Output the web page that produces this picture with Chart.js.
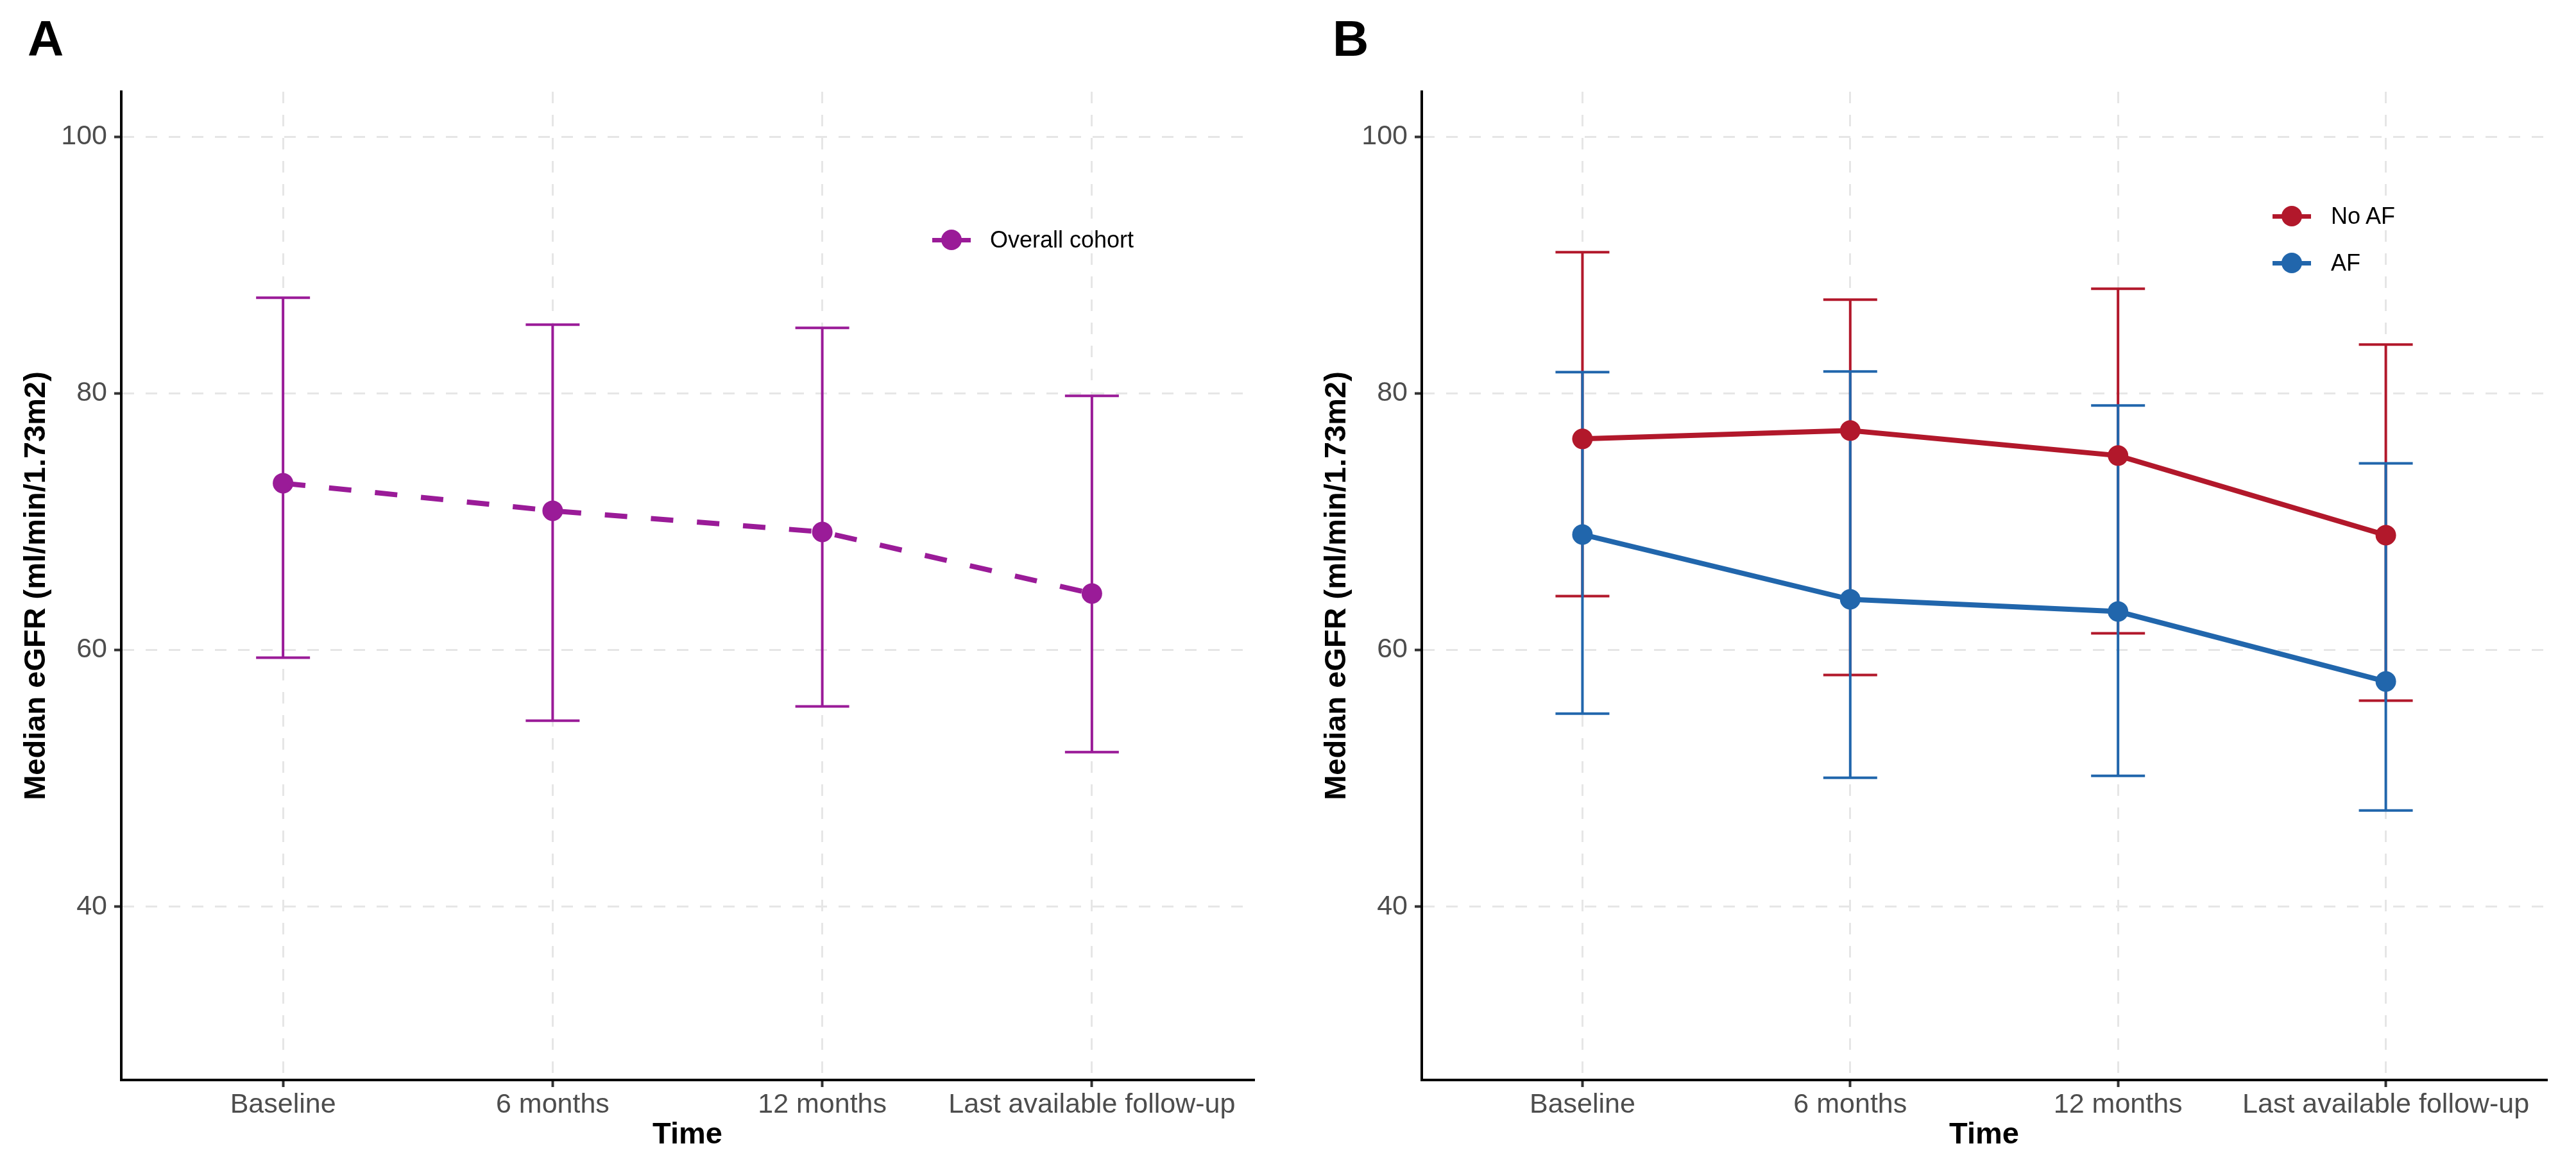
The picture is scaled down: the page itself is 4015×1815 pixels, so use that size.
<!DOCTYPE html>
<html>
<head>
<meta charset="utf-8">
<script src="https://cdn.jsdelivr.net/npm/chart.js@4.4.1/dist/chart.umd.min.js"></script>
<style>
  body { margin: 0; background: #fff; width: 4015px; height: 1815px; overflow: hidden; position: relative; font-family: 'Liberation Sans', Arial, sans-serif; }
  canvas { position: absolute; top: 0; }
  .panel { position: absolute; top: 21px; font-size: 78px; line-height: 78px; font-weight: bold; color: #000; }
  .key { position: absolute; width: 60px; height: 36px; }
  .key .ln { position: absolute; left: 0; top: 15px; width: 60px; height: 7px; }
  .key .dot { position: absolute; left: 14px; top: 2px; width: 32px; height: 32px; border-radius: 50%; }
  .lab { position: absolute; font-size: 36px; line-height: 36px; color: #000; white-space: nowrap; }
</style>
</head>
<body>
<canvas id="chartA" width="2000" height="1815" style="left:0px"></canvas>
<canvas id="chartB" width="1988" height="1815" style="left:2027px"></canvas>

<div class="panel" style="left:43px">A</div>
<div class="panel" style="left:2077px">B</div>

<div class="key" style="left:1453px; top:356px"><div class="ln" style="background:#9A1B98"></div><div class="dot" style="background:#9A1B98"></div></div>
<div class="lab" style="left:1543px; top:356px">Overall cohort</div>

<div class="key" style="left:3542px; top:319px"><div class="ln" style="background:#B2182B"></div><div class="dot" style="background:#B2182B"></div></div>
<div class="lab" style="left:3633px; top:319px">No AF</div>
<div class="key" style="left:3542px; top:392px"><div class="ln" style="background:#2166AC"></div><div class="dot" style="background:#2166AC"></div></div>
<div class="lab" style="left:3633px; top:392px">AF</div>

<script>
// time points
var categories = ['Baseline', '6 months', '12 months', 'Last available follow-up'];
var yTicks = [40, 60, 80, 100];

// panel A - overall cohort (median, IQR)
var overallMedian = [73.0, 70.85, 69.2, 64.4];
var overallLower = [59.4, 54.5, 55.6, 52.05];
var overallUpper = [87.45, 85.35, 85.1, 79.8];

// panel B - No AF / AF
var noAfMedian = [76.45, 77.1, 75.15, 68.95];
var noAfLower = [64.2, 58.05, 61.3, 56.05];
var noAfUpper = [91.0, 87.3, 88.15, 83.8];

var afMedian = [69.0, 63.95, 63.0, 57.55];
var afLower = [55.05, 50.05, 50.2, 47.5];
var afUpper = [81.65, 81.7, 79.05, 74.55];

var colors = {
	purple: '#9A1B98',
	red: '#B2182B',
	blue: '#2166AC'
};

Chart.defaults.font.family = "'Liberation Sans', Arial, sans-serif";
Chart.defaults.devicePixelRatio = 1;

function points(values) {
	return values.map(function(v, i) { return {x: i + 1, y: v}; });
}

// vertical part of the error bars, broken by null points
function stems(lower, upper) {
	var pts = [];
	for (var i = 0; i < lower.length; i++) {
		pts.push({x: i + 1, y: lower[i]}, {x: i + 1, y: upper[i]}, {x: i + 1, y: null});
	}
	return pts;
}

function caps(lower, upper) {
	return points(lower).concat(points(upper));
}

function errorSets(lower, upper, color, order) {
	return [{
		data: stems(lower, upper),
		borderColor: color,
		borderWidth: 4,
		pointRadius: 0,
		spanGaps: false,
		order: order
	}, {
		data: caps(lower, upper),
		showLine: false,
		pointStyle: 'line',
		pointRadius: 42,
		pointBorderWidth: 4,
		pointBorderColor: color,
		order: order
	}];
}

function medianSet(values, color, dash, order) {
	return {
		data: points(values),
		borderColor: color,
		borderWidth: 8,
		borderDash: dash,
		tension: 0,
		pointRadius: 16,
		pointBorderWidth: 0,
		pointBackgroundColor: color,
		order: order
	};
}

function options(padRight) {
	return {
		responsive: false,
		animation: false,
		events: [],
		layout: { padding: { left: 0, top: 143, right: padRight, bottom: 0 } },
		plugins: { legend: { display: false }, tooltip: { enabled: false } },
		scales: {
			x: {
				type: 'linear',
				min: 0.4,
				max: 4.6,
				afterBuildTicks: function(s) { s.ticks = categories.map(function(c, i) { return {value: i + 1}; }); },
				afterFit: function(s) { s.height = 131; },
				grid: { color: '#E6E6E6', lineWidth: 3, tickLength: 11, tickColor: '#333333', tickWidth: 4, tickBorderDash: [] },
				border: { color: '#000', width: 4, dash: [18, 18] },
				ticks: {
					autoSkip: false,
					maxRotation: 0,
					padding: 2,
					color: '#4D4D4D',
					font: { size: 43 },
					callback: function(v) { return categories[Math.round(v) - 1]; }
				},
				title: { display: true, text: 'Time', color: '#000', font: { size: 47, weight: 'bold' }, padding: { top: 0, bottom: 17 } }
			},
			y: {
				min: 26.5,
				max: 103.5,
				afterBuildTicks: function(s) { s.ticks = yTicks.map(function(v) { return {value: v}; }); },
				afterFit: function(s) { s.width = 189; },
				grid: { color: '#E6E6E6', lineWidth: 3, tickLength: 11, tickColor: '#333333', tickWidth: 4, tickBorderDash: [] },
				border: { color: '#000', width: 4, dash: [18, 18] },
				ticks: { padding: 11, color: '#4D4D4D', font: { size: 43 } },
				title: { display: true, text: 'Median eGFR (ml/min/1.73m2)', color: '#000', font: { size: 47, weight: 'bold' }, padding: { top: 29, bottom: 0 } }
			}
		}
	};
}

new Chart(document.getElementById('chartA').getContext('2d'), {
	type: 'line',
	data: {
		datasets: errorSets(overallLower, overallUpper, colors.purple, 3)
			.concat([medianSet(overallMedian, colors.purple, [35, 37], 1)])
	},
	options: options(34)
});

new Chart(document.getElementById('chartB').getContext('2d'), {
	type: 'line',
	data: {
		datasets: errorSets(noAfLower, noAfUpper, colors.red, 6)
			.concat(errorSets(afLower, afUpper, colors.blue, 5))
			.concat([medianSet(afMedian, colors.blue, [], 2), medianSet(noAfMedian, colors.red, [], 1)])
	},
	options: options(22)
});
</script>
</body>
</html>
